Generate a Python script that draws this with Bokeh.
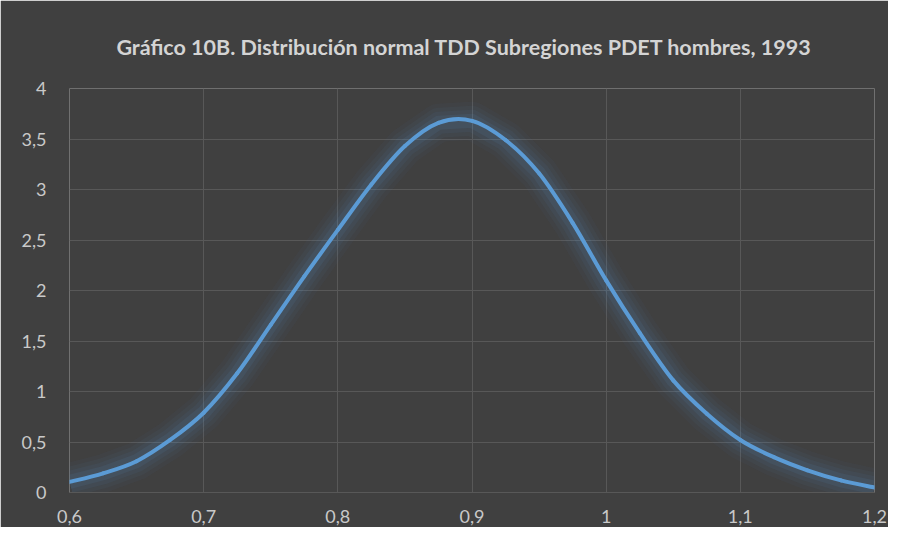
from bokeh.plotting import figure
from bokeh.models import Range1d, FixedTicker, CustomJSTickFormatter, Title
from bokeh.embed import file_html
from bokeh.resources import INLINE

# Data
x_vals = [0.6, 0.625, 0.65, 0.675, 0.7, 0.725, 0.75, 0.775, 0.8, 0.825, 0.85,
          0.875, 0.9, 0.925, 0.95, 0.975, 1.0, 1.025, 1.05, 1.075, 1.1,
          1.125, 1.15, 1.175, 1.2]
y_vals = [0.105, 0.19, 0.31, 0.52, 0.79, 1.18, 1.66, 2.14, 2.6, 3.05, 3.43,
          3.66, 3.68, 3.49, 3.16, 2.67, 2.10, 1.58, 1.11, 0.78, 0.52,
          0.35, 0.22, 0.12, 0.05]
x_ticks = [0.6, 0.7, 0.8, 0.9, 1.0, 1.1, 1.2]
y_ticks = [0, 0.5, 1, 1.5, 2, 2.5, 3, 3.5, 4]
title_text = "Gráfico 10B.  Distribución normal  TDD Subregiones PDET hombres,  1993"

BG = "#404040"
GRID = "#585858"
TXT = "#C9C9C9"
LINE = "#5B9BD5"
FONT = "Lato"

p = figure(width=888, height=527, output_backend="svg", toolbar_location=None,
           x_range=Range1d(0.6, 1.2), y_range=Range1d(0, 4),
           background_fill_color=BG, border_fill_color=BG,
           min_border_left=69, min_border_right=14, min_border_top=88,
           min_border_bottom=35)
p.outline_line_color = None

t = Title(text=title_text, align="center", text_color="#D4D4D4",
          text_font=FONT, text_font_size="21.5px", text_font_style="bold",
          standoff=58, offset=-20)
p.add_layout(t, "above")

# glow (soft wide translucent strokes under the line)
for w, a in [(38, 0.035), (30, 0.045), (22, 0.06), (14, 0.09)]:
    p.line(x_vals, y_vals, line_color=LINE, line_width=w, line_alpha=a,
           line_join="round", line_cap="butt")

# smooth main line: cubic bezier segments through the data points
n = len(x_vals)
x0, y0, x1, y1, cx0, cy0, cx1, cy1 = [], [], [], [], [], [], [], []
for i in range(n - 1):
    xa, ya = x_vals[i], y_vals[i]
    xb, yb = x_vals[i + 1], y_vals[i + 1]
    xp, yp = (x_vals[i - 1], y_vals[i - 1]) if i > 0 else (xa, ya)
    xn, yn = (x_vals[i + 2], y_vals[i + 2]) if i + 2 < n else (xb, yb)
    x0.append(xa); y0.append(ya); x1.append(xb); y1.append(yb)
    cx0.append(xa + (xb - xp) / 6.0); cy0.append(ya + (yb - yp) / 6.0)
    cx1.append(xb - (xn - xa) / 6.0); cy1.append(yb - (yn - ya) / 6.0)
p.bezier(x0=x0, y0=y0, x1=x1, y1=y1, cx0=cx0, cy0=cy0, cx1=cx1, cy1=cy1,
         line_color=LINE, line_width=4, line_cap="round")

fmt = CustomJSTickFormatter(code="""
var v = Math.round(tick*10)/10;
return v.toString().replace('.', ',');
""")

for ax in (p.xaxis[0], p.yaxis[0]):
    ax.formatter = fmt
    ax.major_tick_line_color = None
    ax.minor_tick_line_color = None
    ax.major_label_text_color = TXT
    ax.major_label_text_font = FONT
    ax.major_label_text_font_size = "18px"
p.xaxis[0].major_label_standoff = 11
p.yaxis[0].major_label_standoff = 17
p.xaxis[0].ticker = FixedTicker(ticks=x_ticks)
p.yaxis[0].ticker = FixedTicker(ticks=y_ticks)
p.xaxis[0].axis_line_color = GRID
p.yaxis[0].axis_line_color = None

p.xgrid[0].ticker = FixedTicker(ticks=x_ticks)
p.ygrid[0].ticker = FixedTicker(ticks=y_ticks)
p.xgrid.grid_line_color = GRID
p.ygrid.grid_line_color = GRID
p.xgrid.grid_line_width = 1
p.ygrid.grid_line_width = 1

open("out.html", "w").write(file_html(p, INLINE))
